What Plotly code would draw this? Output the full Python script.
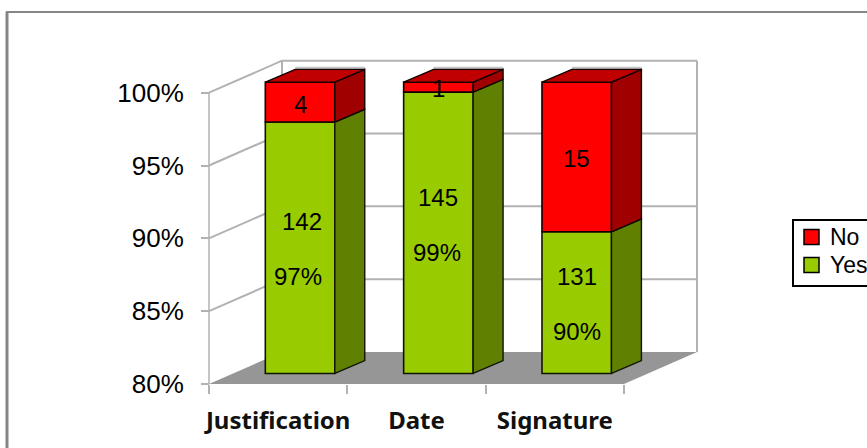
import plotly.graph_objects as go

# Response counts per signature-form field
categories = ["Justification", "Date", "Signature"]
yes_counts = [142, 145, 131]
no_counts = [4, 1, 15]
y_ticks = [80, 85, 90, 95, 100]
y_tick_text = ["80%", "85%", "90%", "95%", "100%"]

GREEN, GREEN_SIDE = "#99CC00", "#5F8000"
RED, RED_SIDE, RED_TOP = "#FF0000", "#A00000", "#C00000"
GRID = "#B2B2B2"
FLOOR = "#969696"
FONT = "Liberation Sans"

# Front plane of the chart box in pixels, and the size of one axis unit
L, R, T, B = 209, 624, 92.7, 384
W, H = 867, 448
X_UNIT = (R - L) / 3
Y_UNIT = (B - T) / 20

# Oblique projection of the chart depth, expressed in axis units
DEPTH_X = 73 / X_UNIT
DEPTH_Y = 32 / Y_UNIT
BAR_FRONT_X = 0.30
BAR_FRONT_Y = 0.33
BAR_DEPTH_X = 0.41
BAR_DEPTH_Y = 0.40
BAR_WIDTH = 69.5 / X_UNIT

totals = [a + b for a, b in zip(yes_counts, no_counts)]
yes_pct = [100 * a / t for a, t in zip(yes_counts, totals)]
no_pct = [100 * b / t for b, t in zip(no_counts, totals)]

front_x = [i + 0.5 + BAR_FRONT_X * DEPTH_X for i in range(3)]
base = 80 + BAR_FRONT_Y * DEPTH_Y
side_dx, side_dy = BAR_DEPTH_X * DEPTH_X, BAR_DEPTH_Y * DEPTH_Y


def polygon(xs, ys, fill, line=None, width=0, axes=("x", "y")):
    return go.Scatter(
        x=xs, y=ys, xaxis=axes[0], yaxis=axes[1], mode="lines", fill="toself",
        fillcolor=fill, line=dict(color=line or fill, width=width),
        hoverinfo="skip", showlegend=False,
    )


def wire(xs, ys, width=2, color=GRID):
    return go.Scatter(
        x=xs, y=ys, mode="lines", line=dict(color=color, width=width),
        hoverinfo="skip", showlegend=False,
    )


fig = go.Figure()

# Floor and wireframe of the chart box
fig.add_trace(polygon([0, 3, 3 + DEPTH_X, DEPTH_X, 0],
                      [80, 80, 80 + DEPTH_Y, 80 + DEPTH_Y, 80], FLOOR))
for t in y_ticks[1:]:
    fig.add_trace(wire([0, DEPTH_X, 3 + DEPTH_X], [t, t + DEPTH_Y, t + DEPTH_Y]))
fig.add_trace(wire([DEPTH_X, DEPTH_X], [80 + DEPTH_Y, 100 + DEPTH_Y]))
fig.add_trace(wire([3 + DEPTH_X, 3 + DEPTH_X], [80 + DEPTH_Y, 100 + DEPTH_Y]))
fig.add_trace(wire([0, 0], [80, 100], width=1.5))

# Soft edge just behind each column top
for fx in front_x:
    edge_y = base + 20 + side_dy + 1.5 / Y_UNIT
    fig.add_trace(wire([fx - BAR_WIDTH / 2 + side_dx, fx + BAR_WIDTH / 2 + side_dx],
                       [edge_y, edge_y], color="#C4C4C4"))

# Front faces of the stacked columns
ov = ("x2", "y2")
fig.add_trace(go.Bar(
    x=front_x, y=[p - 80 for p in yes_pct], base=[base] * 3, width=BAR_WIDTH,
    xaxis="x2", yaxis="y2", marker=dict(color=GREEN, line=dict(color="#111500", width=1.6)),
    showlegend=False, hoverinfo="skip",
))
fig.add_trace(go.Bar(
    x=front_x, y=no_pct, base=[base + p - 80 for p in yes_pct], width=BAR_WIDTH,
    xaxis="x2", yaxis="y2", marker=dict(color=RED, line=dict(color="#100000", width=1.6)),
    showlegend=False, hoverinfo="skip",
))

# Side and top faces
for fx, yp in zip(front_x, yes_pct):
    xr = fx + BAR_WIDTH / 2
    xl = fx - BAR_WIDTH / 2
    y_mid = base + yp - 80
    y_top = base + 20
    fig.add_trace(polygon([xr, xr + side_dx, xr + side_dx, xr, xr],
                          [base, base + side_dy, y_mid + side_dy, y_mid, base],
                          GREEN_SIDE, "#111500", 1.4, ov))
    fig.add_trace(polygon([xr, xr + side_dx, xr + side_dx, xr, xr],
                          [y_mid, y_mid + side_dy, y_top + side_dy, y_top, y_mid],
                          RED_SIDE, "#100000", 1.4, ov))
    fig.add_trace(polygon([xl, xl + side_dx, xr + side_dx, xr, xl],
                          [y_top, y_top + side_dy, y_top + side_dy, y_top, y_top],
                          RED_TOP, "#100000", 1.4, ov))

# Value labels, nudged within each column segment
yes_yshift = [26, 35, 26]
yes_xshift = [2, 0, 0]
pct_yshift = [-29, -20, -29]
pct_xshift = [-2, -1, 0]
no_yshift = [-2, -1, -2]
for i, fx in enumerate(front_x):
    mid_yes = base + (yes_pct[i] - 80) / 2
    mid_no = base + yes_pct[i] - 80 + no_pct[i] / 2
    for y, txt, dx, dy in [
        (mid_yes, str(yes_counts[i]), yes_xshift[i], yes_yshift[i]),
        (mid_yes, f"{yes_pct[i]:.0f}%", pct_xshift[i], pct_yshift[i]),
        (mid_no, str(no_counts[i]), 0, no_yshift[i]),
    ]:
        fig.add_annotation(x=fx, y=y, text=txt, showarrow=False, xshift=dx, yshift=dy,
                           font=dict(family=FONT, size=24, color="#000000"))


def px(v):
    return v / W


def py(v):
    return 1 - v / H


def rect(x0, y0, x1, y1, fill, line, width):
    return dict(type="rect", xref="paper", yref="paper", x0=px(x0), x1=px(x1), y0=py(y0), y1=py(y1),
                fillcolor=fill, line=dict(color=line, width=width))


# Legend box with its two keys
legend_rows = [("No", RED, 237), ("Yes", GREEN, 265)]
shapes = [
    dict(type="line", xref="paper", yref="paper", x0=px(7), x1=px(7), y0=py(12), y1=py(448),
         line=dict(color="#868686", width=3)),
    dict(type="line", xref="paper", yref="paper", x0=px(6), x1=px(867), y0=py(12), y1=py(12),
         line=dict(color="#868686", width=2)),
    rect(793, 220, 870, 286, "white", "#000000", 2),
]
for name, color, row_y in legend_rows:
    shapes.append(rect(804, row_y - 7.5, 819, row_y + 7.5, color, "#000000", 1.5))
    fig.add_annotation(xref="paper", yref="paper", x=px(828), y=py(row_y), text=name, showarrow=False,
                       xanchor="left", font=dict(family=FONT, size=23, color="#000000"))

fig.update_layout(
    width=W, height=H, autosize=False,
    margin=dict(l=0, r=0, t=0, b=0, pad=0, autoexpand=False),
    paper_bgcolor="white", plot_bgcolor="white", barmode="overlay", showlegend=False,
    xaxis=dict(
        range=[-L / X_UNIT, (W - L) / X_UNIT], anchor="free", position=(H - B) / H,
        tickvals=[0.5, 1.5, 2.5], ticktext=categories, ticklen=0, showgrid=False,
        zeroline=False, showline=False,
        tickfont=dict(family="Noto Sans", size=24, color="#111111", weight="bold"),
        minor=dict(tickvals=[0, 1, 2, 3], ticks="outside", ticklen=9, tickcolor=GRID, tickwidth=1.5),
        ticklabelstandoff=20,
    ),
    yaxis=dict(
        range=[80 - (H - B) / Y_UNIT, 80 + B / Y_UNIT], anchor="free", position=L / W,
        tickvals=y_ticks, ticktext=y_tick_text, ticks="outside", ticklen=8,
        tickcolor=GRID, tickwidth=1.5, showgrid=False, zeroline=False, showline=False,
        tickfont=dict(family=FONT, size=26, color="#000000"), ticklabelstandoff=12,
    ),
    xaxis2=dict(range=[-L / X_UNIT, (W - L) / X_UNIT], overlaying="x", visible=False, anchor="y2"),
    yaxis2=dict(range=[80 - (H - B) / Y_UNIT, 80 + B / Y_UNIT], overlaying="y", visible=False, anchor="x2"),
    shapes=shapes,
)

fig.write_html("out.html", config={"displayModeBar": False})
